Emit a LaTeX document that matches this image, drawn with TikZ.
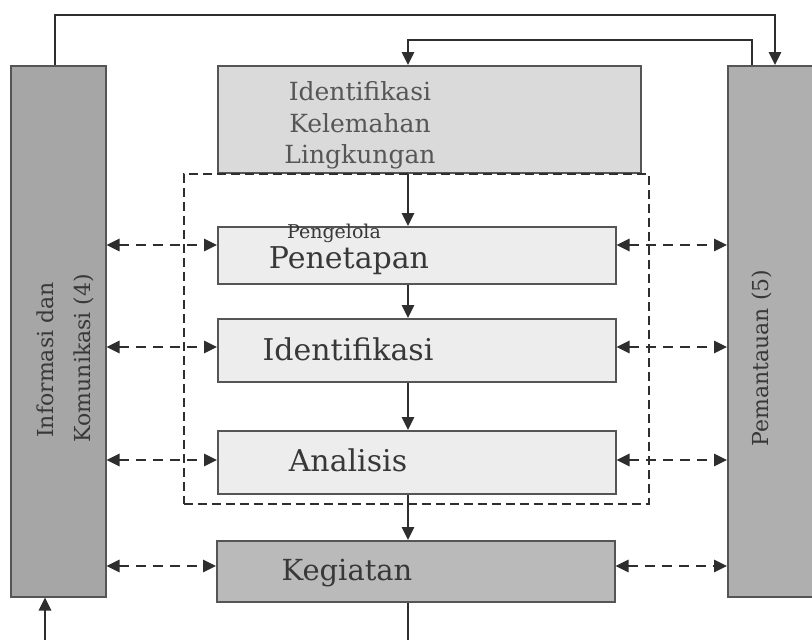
\documentclass[tikz,border=0pt]{standalone}
\usepackage{fontspec}
\setmainfont{DejaVu Serif}
\usetikzlibrary{arrows.meta,calc}
\definecolor{barfill}{HTML}{A6A6A6}
\definecolor{rbarfill}{HTML}{AFAFAF}
\definecolor{kegfill}{HTML}{BABABA}
\definecolor{topfill}{HTML}{DADADA}
\definecolor{boxfill}{HTML}{EDEDED}
\definecolor{edge}{HTML}{555555}
\definecolor{ink}{HTML}{2E2E2E}
\definecolor{txt}{HTML}{383838}
\tikzset{
  box/.style={draw=edge, line width=1.5pt, inner sep=0pt, anchor=north west},
  lbl/.style={text=txt, inner sep=0pt, anchor=base},
  flow/.style={draw=ink, line width=2.6pt, -{Triangle[length=13pt,width=12pt]}},
  plain/.style={draw=ink, line width=2.6pt},
  dasharr/.style={draw=ink, line width=2.8pt, dash pattern=on 10pt off 7pt,
     {Triangle[length=13pt,width=12pt]}-{Triangle[length=13pt,width=12pt]}},
  dashframe/.style={draw=ink, line width=1.8pt, dash pattern=on 9pt off 5pt}
}
\begin{document}
\begin{tikzpicture}[x=1pt,y=-1pt]
\useasboundingbox[fill=white] (0,0) rectangle (812,640);
% bars and boxes
\node[box, fill=barfill, minimum width=95pt, minimum height=531pt] (lbar) at (10,65) {};
\node[box, fill=rbarfill, minimum width=95pt, minimum height=531pt] (rbar) at (727,65) {};
\node[box, fill=topfill, minimum width=423pt, minimum height=107pt] (top) at (217,65) {};
\node[box, fill=boxfill, minimum width=398pt, minimum height=57pt] (pen) at (217,226) {};
\node[box, fill=boxfill, minimum width=398pt, minimum height=63pt] (ide) at (217,318) {};
\node[box, fill=boxfill, minimum width=398pt, minimum height=63pt] (ana) at (217,430) {};
\node[box, fill=kegfill, minimum width=398pt, minimum height=61pt] (keg) at (216,540) {};
\node[dashframe, inner sep=0pt, anchor=north west, minimum width=465pt, minimum height=330pt] (frame) at (183,173) {};
% texts
\node[lbl, font=\fontsize{25}{30}\selectfont, text=txt!85] (t1) at (360,100) {Identifikasi};
\node[lbl, font=\fontsize{25}{30}\selectfont, text=txt!85] (t2) at (360,132) {Kelemahan};
\node[lbl, font=\fontsize{25}{30}\selectfont, text=txt!85] (t3) at (360,163) {Lingkungan};
\node[lbl, font=\fontsize{19}{23}\selectfont] (tpeng) at (334,238) {Pengelola};
\node[lbl, font=\fontsize{30}{36}\selectfont] (tpen) at (349,268) {Penetapan};
\node[lbl, font=\fontsize{30}{36}\selectfont] (tide) at (348,360) {Identifikasi};
\node[lbl, font=\fontsize{30}{36}\selectfont] (tana) at (348,471) {Analisis};
\node[lbl, font=\fontsize{29}{34}\selectfont] (tkeg) at (347,580) {Kegiatan};
\node[lbl, rotate=90, font=\fontsize{22}{26}\selectfont] (tl1) at (53,360) {Informasi dan};
\node[lbl, rotate=90, font=\fontsize{22}{26}\selectfont] (tl2) at (90,358) {Komunikasi (4)};
\node[lbl, rotate=90, font=\fontsize{22}{26}\selectfont] (tr) at (768,358) {Pemantauan (5)};
% helper coordinates
\coordinate (spine) at (408,0);
\coordinate (r1) at (0,245);
\coordinate (r2) at (0,347);
\coordinate (r3) at (0,460);
\coordinate (r4) at (0,566);
\coordinate (botR) at (408,640);
\coordinate (botL) at (45,640);
% top loops
\draw[flow] ([xshift=45pt]lbar.north west) -- ++(0,-50) -| ([xshift=48pt]rbar.north west);
\draw[flow] ([xshift=25pt]rbar.north west) -- ++(0,-25) -| (top.north -| spine);
% spine
\draw[flow] (top.south -| spine) -- (pen.north -| spine);
\draw[flow] (pen.south -| spine) -- (ide.north -| spine);
\draw[flow] (ide.south -| spine) -- (ana.north -| spine);
\draw[flow] (ana.south -| spine) -- (keg.north -| spine);
\draw[plain] (keg.south -| spine) -- (botR);
\draw[flow] (botL) -- (lbar.south -| botL);
% dashed two-way arrows
\foreach \r/\b in {r1/pen, r2/ide, r3/ana, r4/keg}{
  \draw[dasharr] (lbar.east |- \r) -- (\b.west |- \r);
  \draw[dasharr] (\b.east |- \r) -- (rbar.west |- \r);
}
\end{tikzpicture}
\end{document}
